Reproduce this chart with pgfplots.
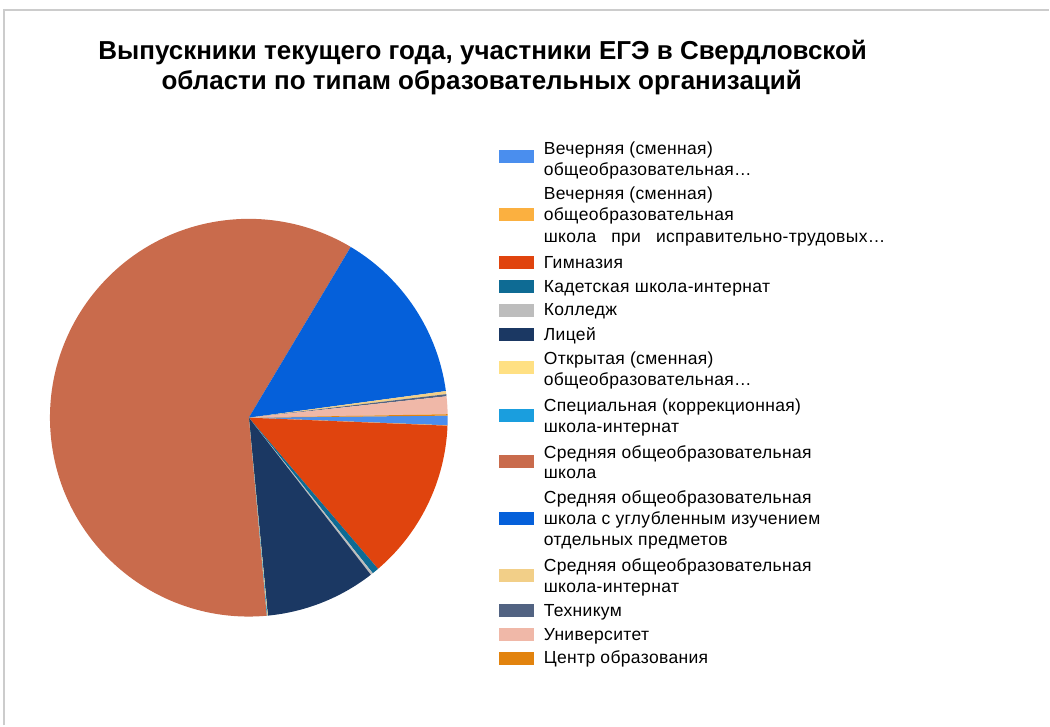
\documentclass[border=0pt]{standalone}
\usepackage{fontspec}
\setmainfont{Liberation Sans}
\newfontfamily\legendface[LetterSpace=2]{Liberation Sans}
\usepackage{pgfplots}
\usepackage{pgfplotstable}
\pgfplotsset{compat=1.18}

\definecolor{cVech}{HTML}{4A8EEE}
\definecolor{cVechITU}{HTML}{FBB040}
\definecolor{cGymn}{HTML}{E0440E}
\definecolor{cKadet}{HTML}{0E6B94}
\definecolor{cColl}{HTML}{BDBDBD}
\definecolor{cLic}{HTML}{1B3863}
\definecolor{cOpen}{HTML}{FFE083}
\definecolor{cSpec}{HTML}{1A9EDE}
\definecolor{cSred}{HTML}{C96B4C}
\definecolor{cUgl}{HTML}{0560DA}
\definecolor{cInt}{HTML}{F2CF88}
\definecolor{cTech}{HTML}{526382}
\definecolor{cUniv}{HTML}{F0B8A8}
\definecolor{cCentr}{HTML}{E2830E}

% доли, % (в порядке легенды, по часовой стрелке)
\pgfplotstableread{
share col
0.78  cVech
0.03  cVechITU
13.10 cGymn
0.55  cKadet
0.20  cColl
8.98  cLic
0.04  cOpen
0.05  cSpec
60.00 cSred
14.30 cUgl
0.25  cInt
0.17  cTech
1.44  cUniv
0.11  cCentr
}\piedata

\newcommand\legfont{\legendface\fontsize{17.5}{20}\selectfont}
\newcommand\legsq[2]{\fill[#1] (499,{726-#2-6.5}) rectangle (534,{726-#2+6.5});}
\newcommand\legline[2]{\node[anchor=base west, inner sep=0pt, font=\legfont] at (544,{726-#1}) {#2};}

\begin{document}
\begin{tikzpicture}[x=1pt,y=1pt]
\path (0,0) rectangle (1050,726);
\draw[black!20, line width=1.5pt] (4,0) -- (4,716) -- (1050,716);

\node[anchor=base, inner sep=0pt, font=\fontsize{26}{30}\selectfont\bfseries] at (483,{726-59.5})
  {Выпускники текущего года, участники ЕГЭ в Свердловской};
\node[anchor=base, inner sep=0pt, font=\fontsize{26}{30}\selectfont\bfseries] at (482,{726-89.5})
  {области по типам образовательных организаций};

\pgfplotstablegetrowsof{\piedata}
\pgfmathtruncatemacro\lastrow{\pgfplotsretval-1}
\def\total{0}
\pgfplotsforeachungrouped \i in {0,...,\lastrow}{%
  \pgfplotstablegetelem{\i}{share}\of\piedata
  \pgfmathsetmacro\total{\total+\pgfplotsretval}%
}

\begin{axis}[
    at={(249pt,308pt)}, anchor=center,
    width=398pt, height=398pt, scale only axis,
    xmin=-1, xmax=1, ymin=-1, ymax=1,
    hide axis, clip=false,
  ]
  \def\cum{0}
  \def\startangle{0.6}
  \pgfplotsforeachungrouped \i in {0,...,\lastrow}{%
    \pgfplotstablegetelem{\i}{share}\of\piedata \let\val\pgfplotsretval
    \pgfplotstablegetelem{\i}{col}\of\piedata \let\slicecol\pgfplotsretval
    \pgfmathsetmacro\angA{\startangle-\cum/\total*360}%
    \pgfmathsetmacro\angB{\startangle-(\cum+\val)/\total*360}%
    \edef\temp{\noexpand\fill[\slicecol] (axis cs:0,0) -- ++(\angA:199pt)
      arc[start angle=\angA, end angle=\angB, radius=199pt] -- cycle;}%
    \temp
    \pgfmathsetmacro\cum{\cum+\val}%
  }
\end{axis}

% легенда
\legsq{cVech}{157}
\legline{155}{Вечерняя (сменная)}
\legline{176}{общеобразовательная…}
\legsq{cVechITU}{215}
\legline{200}{Вечерняя (сменная)}
\legline{221}{общеобразовательная}
\legline{243}{школа\hspace{15pt}при\hspace{15pt}исправительно-трудовых…}
\legsq{cGymn}{262.5}
\legline{268.5}{Гимназия}
\legsq{cKadet}{286.5}
\legline{292.5}{Кадетская школа-интернат}
\legsq{cColl}{310.5}
\legline{316}{Колледж}
\legsq{cLic}{334.5}
\legline{340.5}{Лицей}
\legsq{cOpen}{368}
\legline{364.5}{Открытая (сменная)}
\legline{385.5}{общеобразовательная…}
\legsq{cSpec}{416}
\legline{412}{Специальная (коррекционная)}
\legline{433}{школа-интернат}
\legsq{cSred}{462}
\legline{458.5}{Средняя общеобразовательная}
\legline{478.5}{школа}
\legsq{cUgl}{518.5}
\legline{504}{Средняя общеобразовательная}
\legline{524.5}{школа с углубленным изучением}
\legline{546}{отдельных предметов}
\legsq{cInt}{576}
\legline{571.5}{Средняя общеобразовательная}
\legline{592.5}{школа-интернат}
\legsq{cTech}{611}
\legline{616.5}{Техникум}
\legsq{cUniv}{635}
\legline{641}{Университет}
\legsq{cCentr}{658.5}
\legline{663.5}{Центр образования}
\end{tikzpicture}
\end{document}
